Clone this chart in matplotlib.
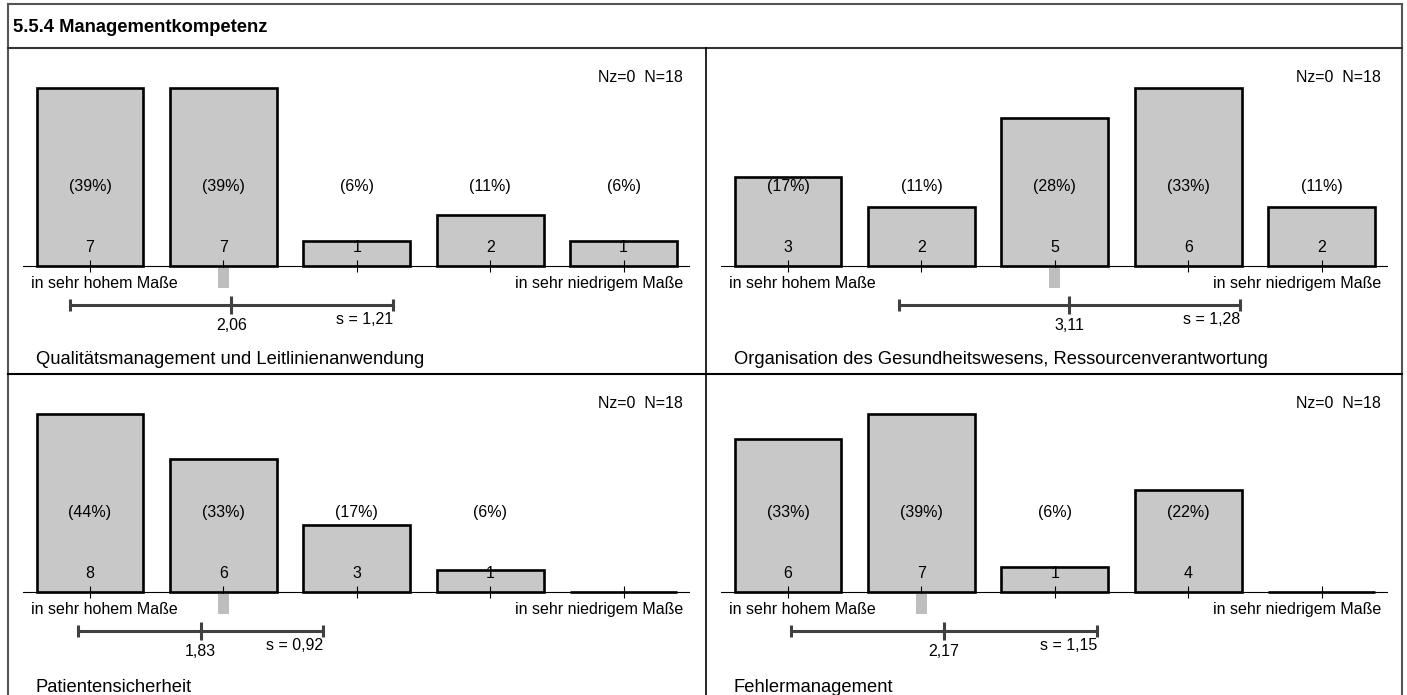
import numpy as np
import matplotlib.pyplot as plt
from matplotlib.patches import Rectangle
from matplotlib.lines import Line2D

plt.rcParams['font.family'] = ['Liberation Sans', 'DejaVu Sans']

## data
section_title = '5.5.4 Managementkompetenz'
categories = [1, 2, 3, 4, 5]
panel_titles = ['Qualitätsmanagement und Leitlinienanwendung',
                'Organisation des Gesundheitswesens, Ressourcenverantwortung',
                'Patientensicherheit',
                'Fehlermanagement']
counts = [[7, 7, 1, 2, 1],
          [3, 2, 5, 6, 2],
          [8, 6, 3, 1, 0],
          [6, 7, 1, 4, 0]]
means = [2.06, 3.11, 1.83, 2.17]
sds = [1.21, 1.28, 0.92, 1.15]
medians = [2, 3, 2, 2]
n_total = [18, 18, 18, 18]
n_missing = [0, 0, 0, 0]
left_label = 'in sehr hohem Maße'
right_label = 'in sehr niedrigem Maße'

## layout (pixels)
W, H = 1407, 695
panel_left = [8, 706, 8, 706]
panel_top = [48, 48, 374, 374]
title_off = [316, 316, 318, 318]
panel_h = 326
base_off = 218      # baseline below panel top
bar_max = 178       # height of the tallest bar
cat_px = 133.4      # pixels between categories
first_px = 82       # center of category 1 from panel left

fig = plt.figure(figsize=(W / 100, H / 100), dpi=100)

def fx(px):
    return px / W

def fy(py):
    return 1 - py / H

fs_lab = 11.5
fs_title = 13.2

for i in range(4):
    x0, y0 = panel_left[i], panel_top[i]
    ax_l = x0 + first_px - 0.5 * cat_px
    ax = fig.add_axes([fx(ax_l), fy(y0 + panel_h), 5 * cat_px / W, panel_h / H])
    ax.set_xlim(0.5, 5.5)
    m = max(counts[i])
    k = m / bar_max
    ax.set_ylim(-(panel_h - base_off) * k, base_off * k)
    ax.axis('off')

    def yo(off):
        return (base_off - off) * k

    def xo(px_rel):
        return 1 + (px_rel - first_px) / cat_px

    ax.axhline(0, color='black', lw=0.8, zorder=1)
    ax.bar(categories, counts[i], width=0.8, color='#c8c8c8', edgecolor='black',
           linewidth=1.9, zorder=2)
    ax.vlines(categories, yo(224), yo(212), color='black', lw=0.8, zorder=3)

    for c, n in zip(categories, counts[i]):
        if n == 0:
            continue
        pct = '(%d%%)' % round(100 * n / n_total[i])
        ax.text(c, yo(138), pct, ha='center', va='center', fontsize=fs_lab, zorder=4)
        ax.text(c, yo(199), str(n), ha='center', va='center', fontsize=fs_lab, zorder=4)

    # median marker
    med = medians[i]
    ax.add_patch(Rectangle((med - 0.042, yo(240)), 0.084, yo(220) - yo(240),
                           color='#bebebe', lw=0, zorder=3))

    # mean +- s
    mu, s = means[i], sds[i]
    ax.hlines(yo(257), mu - s, mu + s, color='#404040', lw=2.2)
    ax.vlines([mu - s, mu + s], yo(251), yo(263), color='#404040', lw=2.2)
    ax.vlines(mu, yo(248), yo(266), color='#404040', lw=2.2)
    ax.text(mu, yo(277), ('%.2f' % mu).replace('.', ','), ha='center', va='center',
            fontsize=fs_lab)
    ax.text(mu + s, yo(272), ('s = %.2f' % s).replace('.', ','), ha='right', va='center',
            fontsize=fs_lab)

    ax.text(xo(23), yo(240), left_label, ha='left', va='baseline', fontsize=fs_lab)
    ax.text(xo(675), yo(240), right_label, ha='right', va='baseline', fontsize=fs_lab)
    ax.text(xo(675), yo(30), 'Nz=%d  N=%d' % (n_missing[i], n_total[i]), ha='right',
            va='center', fontsize=fs_lab)
    ax.text(xo(28), yo(title_off[i]), panel_titles[i], ha='left', va='baseline',
            fontsize=fs_title)

## frame lines
frame = '#555555'
fig.add_artist(Line2D([fx(8), fx(8)], [fy(4), fy(H + 5)], color=frame, lw=1.5))
fig.add_artist(Line2D([fx(1402), fx(1402)], [fy(4), fy(H + 5)], color=frame, lw=1.5))
fig.add_artist(Line2D([fx(8), fx(1402)], [fy(4), fy(4)], color=frame, lw=1.5))
fig.add_artist(Line2D([fx(8), fx(1402)], [fy(48), fy(48)], color='#333333', lw=1.5))
fig.add_artist(Line2D([fx(8), fx(1402)], [fy(374), fy(374)], color='black', lw=1.5))
fig.add_artist(Line2D([fx(706), fx(706)], [fy(48), fy(H + 5)], color='black', lw=1.2))

fig.text(fx(13), fy(27), section_title, ha='left', va='center', fontsize=fs_title,
         fontweight='bold')

fig.savefig('out.png', dpi=100)
